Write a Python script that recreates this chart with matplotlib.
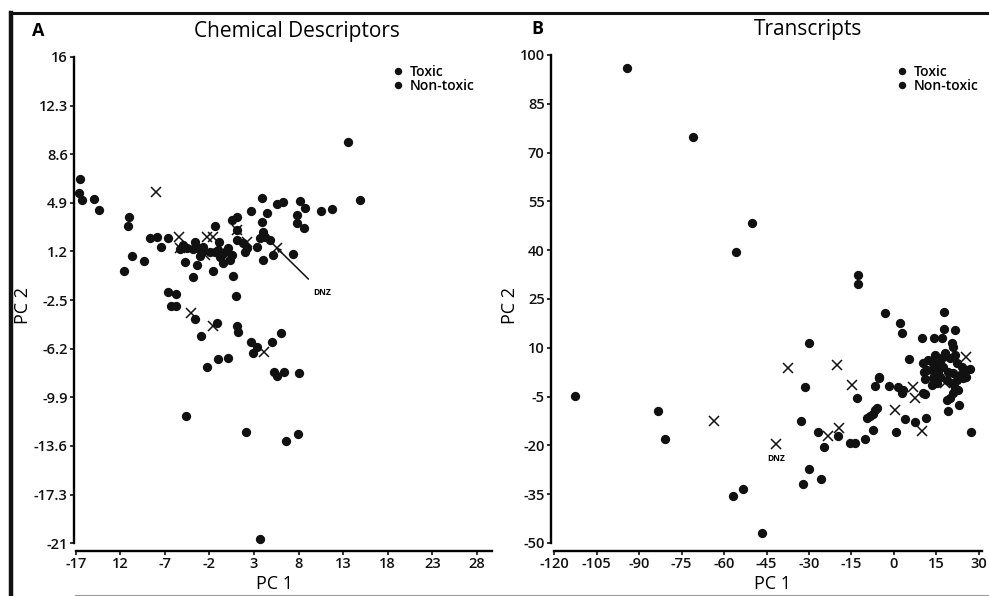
import numpy as np
import matplotlib.pyplot as plt
from matplotlib.lines import Line2D

plt.rcParams['font.family'] = ['Open Sans', 'DejaVu Sans']

# ---- Painel A: descritores químicos (PC1, PC2) ----
a_toxic_x = [13.5, 14.9, -16.55, -16.6, -16.25, -14.9, -14.4, -11.0, -11.1, -10.7, -11.57, -9.36,
             -8.69, -7.94, -7.48, -6.7, -6.7, -5.7, -6.36, -5.7, -3.63, -2.99, -2.32, -1.0, 0.12,
             -4.64, 2.07, 6.6, 7.98, 3.67, 5.25, 5.55, 6.37, 8.1, 6.03, 4.99, 2.63, 3.37, 2.92,
             1.13, 1.24, 0.98, -1.12]
a_toxic_y = [9.5, 5.1, 6.7, 5.67, 5.1, 5.17, 4.36, 3.8, 3.14, 0.86, -0.26, 0.5,
             2.2, 2.28, 1.56, 2.2, -1.86, -2.04, -2.95, -2.95, -3.96, -5.23, -7.57, -7.0, -6.88,
             -11.32, -12.54, -13.22, -12.69, -20.68, -8.0, -8.28, -7.95, -8.07, -4.98, -5.71, -5.71, -6.05, -6.5,
             -4.47, -4.9, -2.19, -4.27]
a_nontox_x = [-5.3, -4.94, -4.56, -4.72, -3.63, -3.82, -3.26, -2.88, -2.7, -3.07, -3.44, -3.82,
              -1.38, -0.9, -1.94, -1.38, -1.0, -0.82, -0.26, 0.12, 0.49, -0.45, 0.3, -1.57, 0.6,
              0.49, 1.05, 1.12, 1.05, 1.8, 2.18, 2.0, 2.63, 3.86, 4.43, 3.86, 4.05, 3.67, 3.3,
              4.24, 4.8, 4.05, 5.17, 5.55, 6.2, 7.4, 7.8, 8.17, 8.73, 7.8, 8.6, 10.5, 11.7]
a_nontox_y = [1.37, 1.69, 1.44, 0.42, 1.94, 1.37, 1.44, 1.19, 1.56, 0.86, 0.17, -0.77,
              3.14, 1.94, 1.19, 1.19, 1.31, 0.76, 1.19, 1.44, 0.93, 0.34, 0.55, -0.26, -0.67,
              3.6, 3.85, 2.83, 2.07, 1.82, 1.44, 1.19, 4.28, 5.25, 4.1, 3.47, 2.7, 2.2, 1.56,
              2.33, 2.07, 0.55, 0.93, 4.81, 5.0, 1.0, 3.98, 5.06, 4.49, 3.34, 2.96, 4.3, 4.46]
a_cross_x = [-8.05, -5.4, -2.3, -1.64, -4.08, -1.64, 4.12, -5.3, -2.5, -0.26, 1.05, 2.18, 5.6]
a_cross_y = [5.7, 2.33, 2.28, 2.28, -3.46, -4.47, -6.43, 1.46, 0.93, 0.8, 2.83, 1.94, 1.5]
a_xticks = [-17, -12, -7, -2, 3, 8, 13, 18, 23, 28]
a_xlabels = ['-17', '12', '-7', '-2', '3', '8', '13', '18', '23', '28']
a_yticks = [16, 12.3, 8.6, 4.9, 1.2, -2.5, -6.2, -9.9, -13.6, -17.3, -21]

# ---- Painel B: transcritos (PC1, PC2) ----
b_toxic_x = [-94.4, -71.0, -50.2, -55.9, -12.8, -12.8, -112.8, -83.2, -80.8, -29.9, -31.4, -32.8,
             -26.7, -24.6, -29.9, -32.2, -25.8, -56.7, -53.4, -46.7, -19.6, -12.9, -15.5, -13.8,
             -10.2, -9.6, -8.5, -7.5, -7.3, -6.7, -5.9, -6.7, -5.3, -3.2, -1.6, 2.1, 2.9, 0.7,
             1.5, 3.3, 2.7, 3.9, 5.4, 7.4, 9.8, 10.1, 10.9, 11.3, -5.4]
b_toxic_y = [96.1, 74.7, 48.4, 39.5, 32.4, 29.6, -4.8, -9.6, -18.1, 11.4, -2.0, -12.4,
             -15.8, -20.6, -27.3, -31.9, -30.4, -35.5, -33.4, -47.0, -17.1, -5.5, -19.2, -19.4,
             -18.1, -11.7, -11.0, -10.4, -15.3, -9.1, -8.6, -1.7, 0.6, 20.8, -1.7, 17.5, 14.4, -15.8,
             -2.0, -3.0, -4.0, -12.0, 6.5, -12.7, 12.9, -3.8, -4.2, -11.5, 0.9]
b_nontox_x = [17.7, 14.2, 16.8, 17.7, 21.5, 20.4, 20.7, 10.4, 12.1, 14.5, 16.3, 18.0, 19.8, 21.5,
              22.1, 23.9, 25.6, 26.8, 10.6, 13.3, 15.1, 17.4, 19.2, 20.9, 23.3, 25.6, 10.9, 13.9,
              16.3, 18.6, 20.4, 22.1, 24.5, 21.5, 20.9, 19.8, 18.6, 22.7, 23.1, 19.2, 27.1, 11.8,
              13.5, 15.2, 17.4, 13.9, 15.7]
b_nontox_y = [21.1, 12.9, 12.9, 15.7, 15.3, 11.4, 10.3, 5.4, 6.2, 7.8, 5.7, 8.3, 6.8, 7.8,
              5.2, 4.2, 3.2, 3.4, 2.6, 3.2, 3.7, 4.2, 2.6, 2.1, 1.6, 1.1, 0.3, 0.6,
              0.9, 0.1, -0.9, 0.1, 0.6, -2.5, -4.0, -5.5, -6.1, -3.0, -7.6, -9.6, -15.8, 3.2,
              -1.4, -0.9, 7.3, 5.2, 2.1]
b_cross_x = [-63.4, -41.6, -37.3, -23.2, -20.2, -19.3, -14.9, 0.4, 6.8, 7.4, 9.8, 25.6, 15.0, 18.0]
b_cross_y = [-12.4, -19.7, 3.7, -17.0, 4.7, -14.8, -1.4, -9.3, -2.2, -5.5, -15.5, 7.3, 0.0, -1.0]
b_xticks = [-120, -105, -90, -75, -60, -45, -30, -15, 0, 15, 30]
b_yticks = [100, 85, 70, 55, 40, 25, 10, -5, -20, -35, -50]

W, H = 989, 596
fig = plt.figure(figsize=(W / 100, H / 100), dpi=100)

def px_axes(l, t, r, b):
    return fig.add_axes([l / W, 1 - b / H, (r - l) / W, (b - t) / H])

def fx(px):
    return px / W

def fy(py):
    return 1 - py / H

ink = '#111111'

def style(ax, xlim, ylim, xb, yb, xticks, xlabels, yticks):
    ax.set_xlim(*xlim)
    ax.set_ylim(*ylim)
    for s in ['top', 'right']:
        ax.spines[s].set_visible(False)
    ax.spines['left'].set_bounds(*yb)
    ax.spines['bottom'].set_bounds(*xb)
    ax.spines['left'].set_linewidth(1.7)
    ax.spines['bottom'].set_linewidth(1.7)
    ax.set_xticks(xticks)
    ax.set_xticklabels(xlabels, fontsize=10.5, fontweight='semibold')
    ax.set_yticks(yticks)
    ax.set_yticklabels(['%g' % v for v in yticks], fontsize=10.5, fontweight='semibold')
    ax.tick_params(direction='out', length=3, width=1.2, pad=1.5, colors=ink)
    ax.patch.set_alpha(0)

def draw(ax, tx, ty, nx, ny, cx, cy):
    ax.plot(tx, ty, 'o', color=ink, ms=6.7, mec='none', label='Toxic')
    ax.plot(nx, ny, 'o', color=ink, ms=6.7, mec='none', label='Non-toxic')
    ax.plot(cx, cy, 'x', color=ink, ms=7.5, mew=1.1)
    leg = ax.legend(loc='upper left', frameon=False, handlelength=0.6,
                    handletextpad=0.6, labelspacing=0.0, borderaxespad=0, markerscale=0.8,
                    prop={'size': 10, 'weight': 'semibold'})
    return leg

# Painel A
axA = px_axes(74, 57, 492, 551)
style(axA, (-17.2, 29.7), (-21.6, 16), (-17, 29.7), (-21, 16), a_xticks, a_xlabels, a_yticks)
legA = draw(axA, a_toxic_x, a_toxic_y, a_nontox_x, a_nontox_y, a_cross_x, a_cross_y)
legA.set_bbox_to_anchor((fx(388), fy(59)), transform=fig.transFigure)
axA.annotate('DNZ', xy=(5.5, 1.5), xytext=(10.6, -1.9), fontsize=6, fontweight='bold',
             ha='center', va='center',
             arrowprops=dict(arrowstyle='->', color=ink, lw=1.1, shrinkA=6, shrinkB=0))

# Painel B
axB = px_axes(551, 55, 982, 551)
style(axB, (-121.1, 31.1), (-52.5, 100), (-120, 31), (-50, 100), b_xticks,
      [str(v) for v in b_xticks], b_yticks)
legB = draw(axB, b_toxic_x, b_toxic_y, b_nontox_x, b_nontox_y, b_cross_x, b_cross_y)
legB.set_bbox_to_anchor((fx(892), fy(59)), transform=fig.transFigure)
axB.text(-41.6, -24.2, 'DNZ', fontsize=6, fontweight='bold', ha='center', va='center')

# Títulos e rótulos
fig.text(fx(38), fy(31), 'A', fontsize=13, fontweight='bold', ha='center', va='center')
fig.text(fx(537), fy(29), 'B', fontsize=13, fontweight='bold', ha='center', va='center')
fig.text(fx(297), fy(31), 'Chemical Descriptors', fontsize=15, ha='center', va='center')
fig.text(fx(808), fy(29), 'Transcripts', fontsize=15, ha='center', va='center')
fig.text(fx(23), fy(305), 'PC 2', fontsize=13, rotation=90, ha='center', va='center')
fig.text(fx(510), fy(305), 'PC 2', fontsize=13, rotation=90, ha='center', va='center')
fig.text(fx(275), fy(584), 'PC 1', fontsize=13, ha='center', va='center')
fig.text(fx(772), fy(584), 'PC 1', fontsize=13, ha='center', va='center')

# Moldura da figura (linha superior, esquerda e inferior)
fig.add_artist(Line2D([fx(10), 1], [fy(13), fy(13)], color=ink, lw=2.2))
fig.add_artist(Line2D([fx(11), fx(11)], [fy(13), 0], color=ink, lw=3.2))
fig.add_artist(Line2D([fx(75), 1], [fy(594.5), fy(594.5)], color='#9a9a9a', lw=0.8))

fig.savefig('out.png', dpi=100)
